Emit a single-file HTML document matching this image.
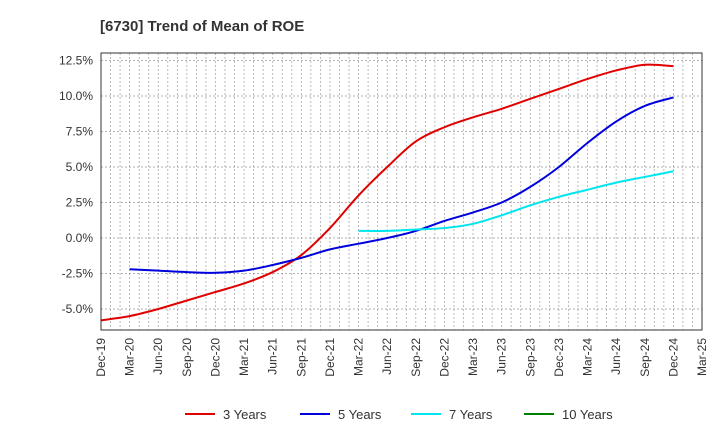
<!DOCTYPE html>
<html><head><meta charset="utf-8"><style>
body{margin:0;background:#fff;font-family:"Liberation Sans",Arial,sans-serif}
</style></head><body>
<svg id="chart" width="720" height="440" xmlns="http://www.w3.org/2000/svg" font-family="Liberation Sans, Arial, sans-serif">
<text x="100" y="31" font-size="15" font-weight="bold" fill="#333">[6730]  Trend of Mean of ROE</text>
<g id="grid"></g><g id="series"></g><g id="axes"></g>
<g id="legend"></g>
</svg>
<script>
const xLabels=["Dec-19","Mar-20","Jun-20","Sep-20","Dec-20","Mar-21","Jun-21","Sep-21","Dec-21","Mar-22","Jun-22","Sep-22","Dec-22","Mar-23","Jun-23","Sep-23","Dec-23","Mar-24","Jun-24","Sep-24","Dec-24","Mar-25"];
const yTicks=[12.5,10,7.5,5,2.5,0,-2.5,-5];
const series3=[-5.8,-5.5,-5.0,-4.4,-3.8,-3.2,-2.4,-1.2,0.7,3.0,5.0,6.8,7.8,8.5,9.1,9.8,10.5,11.2,11.8,12.2,12.1];
const series5=[null,-2.2,-2.3,-2.4,-2.45,-2.3,-1.9,-1.4,-0.8,-0.4,0.0,0.5,1.2,1.8,2.5,3.6,5.0,6.7,8.2,9.3,9.9];
const series7=[null,null,null,null,null,null,null,null,null,0.5,0.5,0.6,0.7,1.0,1.6,2.3,2.9,3.4,3.9,4.3,4.7];
const series10=[];
const NS="http://www.w3.org/2000/svg";
const L=101,R=702,T=53,B=330;
const xs=i=>L+i*(R-L)/21;
const ys=v=>238-v*35.5/2.5;
function mk(tag,at,parent){const e=document.createElementNS(NS,tag);for(const k in at)e.setAttribute(k,at[k]);document.getElementById(parent).appendChild(e);return e;}
for(let m=0;m<=63;m++){const x=L+m*(R-L)/63;
 const g=mk('line',{x1:x,x2:x,y1:T,y2:B,stroke:'#aaa','stroke-dasharray':'2,2','stroke-width':0.8},'grid');
 
 }
yTicks.forEach(v=>{const y=ys(v);
 const g=mk('line',{x1:L,x2:R,y1:y,y2:y,stroke:'#999','stroke-dasharray':'2,2','stroke-width':0.8},'grid');
 
 
 const t=mk('text',{x:L-8,y:y+4,'text-anchor':'end','font-size':12,fill:'#333'},'axes');t.textContent=(v.toFixed(1))+'%';
 
 });
xLabels.forEach((s,i)=>{const x=xs(i);
 const t=mk('text',{transform:`translate(${x+4},${B+8}) rotate(-90)`,'text-anchor':'end','font-size':12,fill:'#333'},'axes');t.textContent=s;
 
 });
const fr=mk('rect',{x:L,y:T,width:R-L,height:B-T,fill:'none',stroke:'#333','stroke-width':1},'axes');


function path(data){const p=[];data.forEach((v,i)=>{if(v!=null)p.push([xs(i),ys(v)]);});
 if(p.length<2)return '';let d=`M${p[0][0]},${p[0][1]}`;
 for(let i=0;i<p.length-1;i++){const p0=p[i-1]||p[i],p1=p[i],p2=p[i+1],p3=p[i+2]||p2;
  d+=`C${p1[0]+(p2[0]-p0[0])/6},${p1[1]+(p2[1]-p0[1])/6} ${p2[0]-(p3[0]-p1[0])/6},${p2[1]-(p3[1]-p1[1])/6} ${p2[0]},${p2[1]}`;}
 return d;}
const defs=[[series3,'#e00000','3 Years','series-3-years',185],[series5,'#0000dd','5 Years','series-5-years',300],[series7,'#00e5ee','7 Years','series-7-years',411],[series10,'#008000','10 Years','series-10-years',524]];
defs.forEach(([d,c,lab,nm,lx])=>{const pd=path(d);
 if(pd){const e=mk('path',{d:pd,fill:'none',stroke:c,'stroke-width':2},'series');
  
  }
 const ll=mk('line',{x1:lx,x2:lx+30,y1:414,y2:414,stroke:c,'stroke-width':2},'legend');
 
 
 const lt=mk('text',{x:lx+38,y:419,'font-size':13,fill:'#333'},'legend');lt.textContent=lab;
 
 });
</script>
</body></html>
